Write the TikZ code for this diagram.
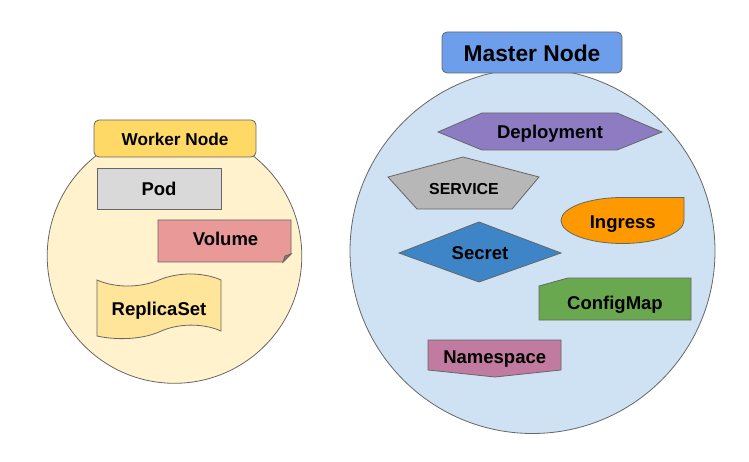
\documentclass[tikz,border=0pt]{standalone}
\usepackage{fontspec}
\setmainfont{Liberation Sans}
\begin{document}
\begin{tikzpicture}[x=1pt,y=-1pt,
  shp/.style={draw=black!60, line width=0.8pt, line join=miter},
  lbl/.style={font=\fontsize{18.5}{20}\selectfont\bfseries, inner sep=0pt, text=black},
]
\definecolor{wcirc}{HTML}{FFF2CC}
\definecolor{mcirc}{HTML}{CFE2F3}
\definecolor{wbox}{HTML}{FFD966}
\definecolor{mbox}{HTML}{6D9EEB}
\definecolor{podc}{HTML}{D9D9D9}
\definecolor{volc}{HTML}{EA9999}
\definecolor{repc}{HTML}{FFE599}
\definecolor{depc}{HTML}{8E7CC3}
\definecolor{svcc}{HTML}{B7B7B7}
\definecolor{ingc}{HTML}{FF9900}
\definecolor{secc}{HTML}{3D85C6}
\definecolor{cfgc}{HTML}{6AA84F}
\definecolor{nsc}{HTML}{C27BA0}
\useasboundingbox (0,0) rectangle (749,462);
% circles
\draw[shp, fill=wcirc] (174.5,256) circle[radius=127.3];
\draw[shp, fill=mcirc] (532.5,251) circle[radius=182.5];
% headers
\draw[shp, fill=wbox, rounded corners=5pt] (94,120) rectangle (256,157);
\node[lbl, font=\fontsize{17.2}{19}\selectfont\bfseries] (worker) at (175,139) {Worker Node};
\draw[shp, fill=mbox, rounded corners=5pt] (442,32) rectangle (622,73);
\node[lbl, font=\fontsize{22.8}{25}\selectfont\bfseries] (master) at (532,53) {Master Node};
% Pod
\draw[shp, fill=podc] (97,168) rectangle (221,209);
\node[lbl] (pod) at (159,188.5) {Pod};
% Volume
\draw[shp, fill=volc] (158,220) -- (291,220) -- (291,254) -- (283,262) -- (158,262) -- cycle;
\draw[shp, fill=volc!70!black] (291,254) -- (285,256) -- (283,262) -- cycle;
\node[lbl] (volume) at (225.5,239) {Volume};
% ReplicaSet (punched tape)
\draw[shp, fill=repc] (97,280) .. controls (115,288) and (140,288) .. (159,280)
   .. controls (178,272) and (203,272) .. (221,280) -- (221,331)
   .. controls (203,323) and (178,323) .. (159,332)
   .. controls (140,340) and (115,340) .. (97,336) -- cycle;
\node[lbl] (replicaset) at (159,310.5) {ReplicaSet};
% Deployment hexagon
\draw[shp, fill=depc] (438,132) -- (482,113) -- (617,113) -- (662,132) -- (617,150) -- (482,150) -- cycle;
\node[lbl] (deployment) at (550,134) {Deployment};
% SERVICE pentagon
\draw[shp, fill=svcc] (463,157) -- (539,177) -- (512,209) -- (417,209) -- (388,177) -- cycle;
\node[lbl, font=\fontsize{15.9}{17}\selectfont\bfseries] (service) at (464,189) {SERVICE};
% Ingress teardrop
\draw[shp, fill=ingc] (623,197.5) -- (684,197.5) -- (684,220.5)
   arc[start angle=0, end angle=-180, x radius=61.5, y radius=-23]
   arc[start angle=180, end angle=90, x radius=61.5, y radius=-23] -- cycle;
\node[lbl] (ingress) at (622.7,223.7) {Ingress};
% Secret diamond
\draw[shp, fill=secc] (399,253) -- (479,222) -- (561,253) -- (479,282) -- cycle;
\node[lbl] (secret) at (480,252.7) {Secret};
% ConfigMap manual input
\draw[shp, fill=cfgc] (539,286) -- (568,278) -- (691,278) -- (691,320) -- (539,320) -- cycle;
\node[lbl] (configmap) at (615,305) {ConfigMap};
% Namespace off-page
\draw[shp, fill=nsc] (428,340) -- (561,340) -- (561,370) -- (495,377) -- (428,370) -- cycle;
\node[lbl] (namespace) at (494.7,359) {Namespace};
\end{tikzpicture}
\end{document}
